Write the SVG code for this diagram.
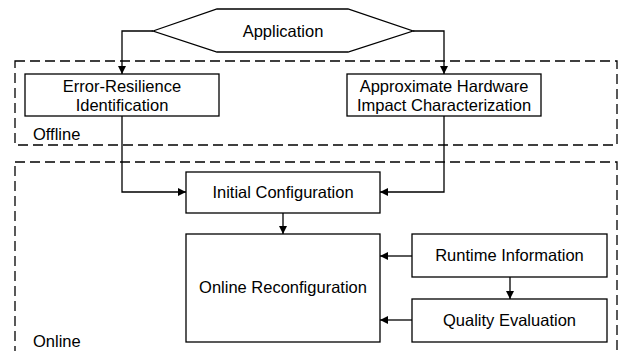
<svg xmlns="http://www.w3.org/2000/svg" width="620" height="351" viewBox="0 0 620 351">
<style>
.box{fill:#fff;stroke:#000;stroke-width:1.3}
.dash{fill:none;stroke:#000;stroke-width:1.3;stroke-dasharray:10,5}
.t{font-family:"Liberation Sans",Arial,sans-serif;font-size:16.5px;fill:#000;text-anchor:middle}
.l{font-family:"Liberation Sans",Arial,sans-serif;font-size:16.5px;fill:#000}
.c{fill:none;stroke:#000;stroke-width:1.3}
</style>
<defs>
<marker id="ah" markerWidth="8" markerHeight="8" refX="8" refY="4" orient="auto" markerUnits="userSpaceOnUse">
<path d="M0,0 L8,4 L0,8 Z" fill="#000"/>
</marker>
</defs>
<g id="regions">
<rect class="dash" x="15" y="61" width="602" height="84"/>
<rect class="dash" x="15" y="162" width="602" height="200"/>
<text class="l" x="33" y="140">Offline</text>
<text class="l" x="33" y="347">Online</text>
</g>
<g id="connectors">
<path class="c" d="M153,31 H122 V74" marker-end="url(#ah)"/>
<path class="c" d="M413,31 H444 V74" marker-end="url(#ah)"/>
<path class="c" d="M122,116 V192 H186" marker-end="url(#ah)"/>
<path class="c" d="M444,116 V192 H380" marker-end="url(#ah)"/>
<path class="c" d="M283,213 V234" marker-end="url(#ah)"/>
<path class="c" d="M412,256 H380" marker-end="url(#ah)"/>
<path class="c" d="M412,320 H380" marker-end="url(#ah)"/>
<path class="c" d="M510,277 V299" marker-end="url(#ah)"/>
</g>
<g id="application">
<polygon class="box" points="153,31 217,9 348,9 413,31 348,52 217,52"/>
<text class="t" x="283" y="37">Application</text>
</g>
<g id="error-resilience">
<rect class="box" x="25" y="74" width="194" height="42"/>
<text class="t" x="122" y="92">Error-Resilience</text>
<text class="t" x="122" y="110.5">Identification</text>
</g>
<g id="approx-hw">
<rect class="box" x="347" y="74" width="194" height="42"/>
<text class="t" x="444" y="92">Approximate Hardware</text>
<text class="t" x="444" y="110.5">Impact Characterization</text>
</g>
<g id="initial-config">
<rect class="box" x="186" y="172" width="194" height="41"/>
<text class="t" x="283" y="198">Initial Configuration</text>
</g>
<g id="online-reconfig">
<rect class="box" x="186" y="234" width="194" height="108"/>
<text class="t" x="283" y="293">Online Reconfiguration</text>
</g>
<g id="runtime-info">
<rect class="box" x="412" y="234" width="195" height="43"/>
<text class="t" x="509.5" y="261">Runtime Information</text>
</g>
<g id="quality-eval">
<rect class="box" x="412" y="299" width="195" height="43"/>
<text class="t" x="509.5" y="326">Quality Evaluation</text>
</g>
</svg>
